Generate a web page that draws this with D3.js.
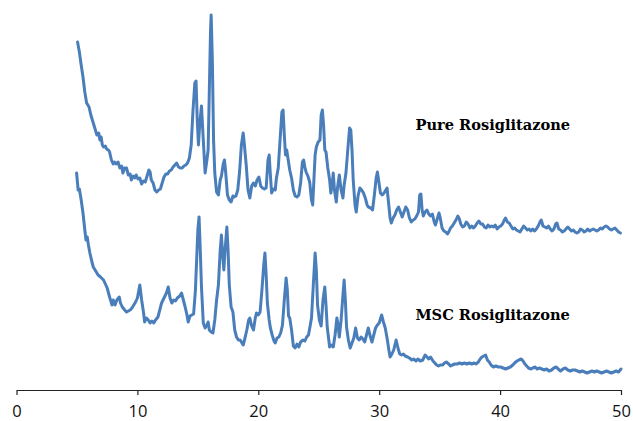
<!DOCTYPE html>
<html>
<head>
<meta charset="utf-8">
<script src="https://cdn.jsdelivr.net/npm/d3@7"></script>
<style>
  body { margin: 0; background: #fff; }
  svg { display: block; }
</style>
</head>
<body>
<script>
// XRD patterns, [2-theta, intensity (a.u., stacked)]
const pure = [
  [5.05,358],[5.2,348],[5.35,335],[5.5,323],[5.65,308],[5.8,297],[5.9,295],[6.0,293],[6.15,285],[6.35,277],
  [6.5,271],[6.65,265],[6.8,267],[6.9,260],[7.0,263],[7.1,255],[7.2,253],[7.35,254],[7.45,251],[7.6,250],
  [7.7,248],[7.85,240],[8.0,236],[8.1,238],[8.25,236],[8.4,238],[8.55,232],[8.7,234],[8.8,227],[8.95,232],
  [9.1,232],[9.25,225],[9.4,226],[9.5,220],[9.65,224],[9.8,222],[9.9,225],[10.05,221],[10.2,222],[10.35,216],
  [10.5,219],[10.65,218],[10.8,224],[10.95,230],[11.05,228],[11.15,220],[11.3,217],[11.45,210],[11.6,208],[11.75,210],
  [11.9,211],[12.05,217],[12.2,223],[12.35,226],[12.5,226],[12.65,229],[12.8,230],[12.95,233],[13.1,235],[13.25,237],
  [13.4,233],[13.55,232],[13.7,232],[13.85,234],[14.0,235],[14.15,237],[14.3,242],[14.45,255],[14.6,290],[14.75,317],
  [14.85,319],[14.95,280],[15.05,255],[15.15,275],[15.3,294],[15.45,260],[15.6,227],[15.75,240],[15.85,250],[15.95,310],
  [16.05,370],[16.1,385],[16.2,340],[16.3,260],[16.4,227],[16.55,208],[16.7,205],[16.85,220],[16.95,224],[17.1,236],
  [17.2,240],[17.3,228],[17.45,205],[17.6,200],[17.75,198],[17.9,204],[18.0,203],[18.15,204],[18.3,210],[18.45,228],
  [18.6,255],[18.75,267],[18.85,255],[19.0,235],[19.15,210],[19.3,202],[19.45,214],[19.6,217],[19.75,214],[19.9,220],
  [20.05,223],[20.2,214],[20.35,212],[20.5,211],[20.65,212],[20.8,240],[20.9,245],[21.0,225],[21.1,207],[21.25,211],
  [21.4,210],[21.5,222],[21.65,232],[21.8,260],[21.95,288],[22.05,290],[22.15,265],[22.25,245],[22.35,250],[22.45,242],
  [22.6,230],[22.75,222],[22.9,210],[23.05,204],[23.2,203],[23.35,205],[23.5,217],[23.65,238],[23.75,240],[23.85,233],
  [23.95,228],[24.1,224],[24.25,218],[24.4,200],[24.5,195],[24.6,220],[24.7,245],[24.8,253],[24.95,258],[25.1,260],
  [25.2,285],[25.3,290],[25.4,275],[25.5,250],[25.6,248],[25.75,232],[25.9,220],[26.0,207],[26.1,215],[26.2,227],
  [26.3,210],[26.45,198],[26.55,212],[26.7,225],[26.85,210],[27.0,202],[27.1,215],[27.25,227],[27.4,250],[27.55,272],
  [27.65,270],[27.75,250],[27.85,220],[28.0,195],[28.1,188],[28.25,204],[28.4,212],[28.55,210],[28.7,207],[28.85,202],
  [29.0,195],[29.1,193],[29.3,192],[29.45,190],[29.6,205],[29.75,222],[29.85,228],[29.95,220],[30.1,207],[30.25,205],
  [30.4,207],[30.55,210],[30.65,212],[30.75,200],[30.9,182],[31.0,177],[31.15,182],[31.3,185],[31.45,190],[31.6,193],
  [31.75,188],[31.9,183],[32.05,188],[32.2,193],[32.35,190],[32.5,182],[32.65,178],[32.8,180],[32.95,181],[33.1,184],
  [33.25,188],[33.35,205],[33.45,206],[33.55,190],[33.65,184],[33.8,188],[33.95,190],[34.1,186],[34.25,184],[34.4,186],
  [34.55,178],[34.65,175],[34.8,181],[34.95,187],[35.05,182],[35.2,172],[35.35,169],[35.5,168],[35.65,166],[35.75,168],
  [35.9,172],[36.05,174],[36.2,177],[36.35,180],[36.5,184],[36.6,182],[36.75,176],[36.9,173],[37.05,174],[37.2,178],
  [37.35,176],[37.5,172],[37.65,174],[37.8,172],[37.95,174],[38.1,177],[38.25,179],[38.4,176],[38.55,176],[38.7,173],
  [38.85,172],[39.0,175],[39.15,173],[39.3,174],[39.45,173],[39.6,175],[39.75,171],[39.9,173],[40.05,174],[40.2,176],
  [40.35,180],[40.45,182],[40.6,178],[40.75,177],[40.9,174],[41.05,171],[41.2,172],[41.35,170],[41.5,169],[41.65,168],
  [41.8,171],[41.95,174],[42.1,172],[42.25,170],[42.4,171],[42.55,169],[42.7,171],[42.85,169],[43.0,171],[43.15,174],
  [43.3,178],[43.4,180],[43.55,174],[43.7,173],[43.85,172],[44.0,174],[44.15,171],[44.3,169],[44.45,171],[44.6,176],
  [44.7,177],[44.85,171],[45.0,170],[45.15,168],[45.3,169],[45.45,171],[45.6,173],[45.75,171],[45.9,169],[46.05,170],
  [46.2,168],[46.35,167],[46.5,168],[46.65,171],[46.8,170],[46.95,168],[47.1,169],[47.25,171],[47.4,169],[47.55,170],
  [47.7,171],[47.85,170],[48.0,169],[48.15,170],[48.3,172],[48.45,171],[48.6,173],[48.75,174],[48.9,173],[49.05,171],
  [49.2,170],[49.35,171],[49.5,172],[49.65,170],[49.8,168],[49.95,167]
];

const msc = [
  [4.97,227],[5.1,210],[5.2,211],[5.35,200],[5.5,187],[5.65,170],[5.75,160],[5.85,163],[5.95,155],[6.07,147],
  [6.2,140],[6.35,133],[6.55,129],[6.75,125],[6.95,123],[7.2,120],[7.35,116],[7.5,112],[7.7,103],[7.9,95],
  [8.0,100],[8.15,95],[8.3,100],[8.5,103],[8.6,97],[8.75,93],[8.95,90],[9.1,88],[9.25,89],[9.4,90],
  [9.55,92],[9.7,95],[9.85,98],[10.0,102],[10.2,115],[10.35,100],[10.5,88],[10.6,78],[10.75,82],[10.9,80],
  [11.05,77],[11.2,79],[11.35,77],[11.5,80],[11.7,83],[11.85,90],[12.0,97],[12.2,102],[12.4,107],[12.55,113],
  [12.7,102],[12.85,97],[13.0,100],[13.15,99],[13.3,102],[13.5,104],[13.65,107],[13.8,100],[13.95,93],[14.1,85],
  [14.2,78],[14.35,84],[14.5,85],[14.65,86],[14.8,110],[14.9,140],[15.0,170],[15.1,183],[15.2,150],[15.3,113],
  [15.45,77],[15.6,72],[15.75,75],[15.85,78],[15.95,70],[16.1,68],[16.25,67],[16.4,80],[16.55,100],[16.7,115],
  [16.85,150],[16.95,165],[17.05,145],[17.15,130],[17.25,150],[17.4,173],[17.5,150],[17.6,115],[17.75,93],[17.9,88],
  [18.05,70],[18.2,63],[18.35,60],[18.5,60],[18.65,57],[18.75,55],[18.9,62],[19.05,70],[19.2,80],[19.3,82],
  [19.45,74],[19.6,70],[19.75,82],[19.85,87],[20.0,85],[20.15,88],[20.3,110],[20.45,135],[20.55,147],[20.65,125],
  [20.75,97],[20.9,80],[21.0,72],[21.15,65],[21.3,59],[21.4,57],[21.55,62],[21.7,63],[21.85,67],[22.0,75],
  [22.15,100],[22.3,122],[22.4,110],[22.5,84],[22.6,82],[22.75,70],[22.9,54],[23.05,52],[23.2,56],[23.35,53],
  [23.5,58],[23.7,60],[23.85,59],[24.0,63],[24.15,65],[24.3,75],[24.4,82],[24.55,115],[24.7,147],[24.8,130],
  [24.9,95],[25.05,80],[25.2,74],[25.35,100],[25.5,113],[25.6,95],[25.7,73],[25.9,53],[26.05,55],[26.2,53],
  [26.35,65],[26.5,82],[26.6,75],[26.7,63],[26.85,80],[27.0,105],[27.1,120],[27.2,100],[27.3,73],[27.45,60],
  [27.6,52],[27.75,57],[27.9,62],[28.05,72],[28.2,62],[28.35,60],[28.5,63],[28.65,61],[28.8,58],[28.95,65],
  [29.1,72],[29.25,64],[29.4,58],[29.55,65],[29.7,72],[29.85,75],[30.0,77],[30.2,85],[30.35,78],[30.5,72],
  [30.65,62],[30.8,50],[30.9,43],[31.05,46],[31.2,50],[31.4,60],[31.55,52],[31.7,46],[31.85,45],[32.0,46],
  [32.15,44],[32.35,43],[32.5,42],[32.7,40],[32.85,41],[33.05,39],[33.2,41],[33.4,39],[33.6,40],[33.8,45],
  [33.95,43],[34.1,41],[34.25,43],[34.45,39],[34.6,37],[34.75,35],[34.9,34],[35.05,35],[35.25,35],[35.4,37],
  [35.55,38],[35.75,36],[35.9,34],[36.05,35],[36.25,36],[36.45,36],[36.65,37],[36.85,36],[37.05,37],[37.25,36],
  [37.45,37],[37.65,36],[37.85,37],[38.0,36],[38.2,38],[38.35,41],[38.5,43],[38.65,44],[38.8,45],[38.95,40],
  [39.1,38],[39.25,35],[39.45,33],[39.65,34],[39.85,33],[40.05,33],[40.25,32],[40.45,31],[40.65,32],[40.85,33],
  [41.05,35],[41.2,37],[41.4,39],[41.55,40],[41.75,41],[41.9,39],[42.05,36],[42.2,34],[42.35,32],[42.55,31],
  [42.7,32],[42.9,33],[43.05,31],[43.25,32],[43.45,31],[43.65,30],[43.85,31],[44.05,29],[44.25,30],[44.45,32],
  [44.65,33],[44.8,31],[45.0,29],[45.2,31],[45.4,32],[45.6,30],[45.8,29],[46.0,30],[46.2,30],[46.4,29],
  [46.6,28],[46.8,29],[47.0,28],[47.2,27],[47.4,28],[47.6,29],[47.8,28],[48.0,29],[48.2,28],[48.4,27],
  [48.6,28],[48.8,29],[49.0,28],[49.2,27],[49.4,28],[49.6,29],[49.8,28],[50.0,31]
];

const xTicks = [0, 10, 20, 30, 40, 50];
const labels = [
  { text: "Pure Rosiglitazone", at: [33.0, 270] },
  { text: "MSC Rosiglitazone", at: [33.0, 80] }
];

const W = 633, H = 421;
const svg = d3.select("body").append("svg")
  .attr("width", W)
  .attr("height", H);

const x = d3.scaleLinear().domain([0, 50]).range([16.5, 621]);
const y = d3.scaleLinear().domain([0, 400]).range([400, 0]);
const baseY = 390;

// x axis, ticks hanging below the line
const axis = svg.append("g")
  .attr("transform", `translate(0,${baseY})`)
  .call(d3.axisBottom(x).tickValues(xTicks).tickSize(5).tickSizeOuter(0));
axis.select(".domain").attr("stroke", "#222").attr("stroke-width", 1.2);
axis.selectAll(".tick line").attr("stroke", "#222").attr("stroke-width", 1.2);
axis.selectAll(".tick text")
  .attr("y", 27).attr("dy", null)
  .attr("fill", "#111")
  .style("font-family", "'Open Sans', sans-serif")
  .style("font-size", "16.5px");

const line = d3.line()
  .x(d => x(d[0]))
  .y(d => y(d[1]));

[pure, msc].forEach(s => {
  svg.append("path")
    .datum(s)
    .attr("fill", "none")
    .attr("stroke", "#4a7ebb")
    .attr("stroke-width", 3)
    .attr("stroke-linejoin", "round")
    .attr("stroke-linecap", "round")
    .attr("d", line);
});

svg.append("g").selectAll("text")
  .data(labels)
  .enter().append("text")
  .attr("x", d => x(d.at[0]))
  .attr("y", d => y(d.at[1]))
  .text(d => d.text)
  .style("font-family", "'DejaVu Serif', serif")
  .style("font-weight", "bold")
  .style("font-size", "14.6px")
  .attr("fill", "#000");
</script>
</body>
</html>
